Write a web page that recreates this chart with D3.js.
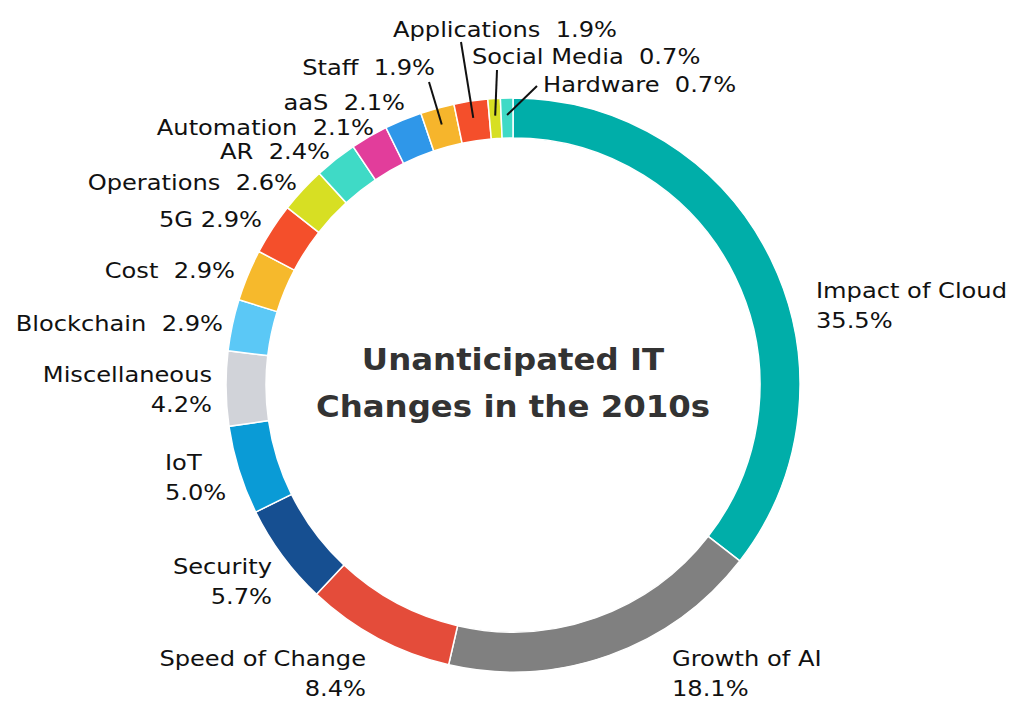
<!DOCTYPE html>
<html>
<head>
<meta charset="utf-8">
<script src="https://cdn.jsdelivr.net/npm/d3@7"></script>
<style>
  body { margin: 0; background: #fff; }
  text { font-family: "DejaVu Sans", sans-serif; }
</style>
</head>
<body>
<div class="donut"></div>
<script>
// categories, clockwise from 12 o'clock
const categories = ["Impact of Cloud", "Growth of AI", "Speed of Change", "Security", "IoT",
    "Miscellaneous", "Blockchain", "Cost", "5G", "Operations", "AR", "Automation", "aaS",
    "Staff", "Applications", "Social Media", "Hardware"];
const shares = [35.5, 18.1, 8.4, 5.7, 5.0, 4.2, 2.9, 2.9, 2.9, 2.6, 2.4, 2.1, 2.1, 1.9, 1.9, 0.7, 0.7];
const shareLabels = ["35.5%", "18.1%", "8.4%", "5.7%", "5.0%", "4.2%", "2.9%", "2.9%", "2.9%",
    "2.6%", "2.4%", "2.1%", "2.1%", "1.9%", "1.9%", "0.7%", "0.7%"];
const colors = ["#00aea9", "#808080", "#e44c3a", "#164f91", "#0a9bd6", "#d1d3d9", "#5bc8f6",
    "#f6b92c", "#f44f2b", "#d7df23", "#3fdac6", "#e23d9b", "#2f97e9", "#f6b52c", "#f44f2b",
    "#d7df23", "#3fdac6"];
const titleLines = ["Unanticipated IT", "Changes in the 2010s"];

// label placement: x, baseline of first line, anchor, two-line or single, leader end
const labelLayout = [
    {x: 816, y: 298, anchor: "start", split: true},
    {x: 672, y: 666, anchor: "start", split: true},
    {x: 366, y: 666, anchor: "end", split: true},
    {x: 272, y: 574, anchor: "end", split: true},
    {x: 165, y: 470, anchor: "start", split: true},
    {x: 212, y: 382, anchor: "end", split: true},
    {x: 223, y: 331, anchor: "end", sep: "  "},
    {x: 235, y: 278, anchor: "end", sep: "  "},
    {x: 262, y: 227, anchor: "end", sep: " "},
    {x: 297, y: 190, anchor: "end", sep: "  "},
    {x: 330, y: 159, anchor: "end", sep: "  "},
    {x: 374, y: 135, anchor: "end", sep: "  "},
    {x: 405, y: 110, anchor: "end", sep: "  "},
    {x: 435, y: 75, anchor: "end", sep: "  ", leader: [429, 82]},
    {x: 393, y: 37, anchor: "start", sep: "  ", leader: [461, 42]},
    {x: 472, y: 64, anchor: "start", sep: "  ", leader: [497, 70]},
    {x: 543, y: 92, anchor: "start", sep: "  ", leader: [537, 86]}
];

const width = 1024;
const height = 722;
const cx = 513, cy = 385;
const outer = 287, inner = 247;
// the original face is wider than DejaVu, so stretch text sideways a bit
const stretch = 1.15;

const svg = d3.select(".donut")
    .append("svg")
    .attr("width", width)
    .attr("height", height);

const g = svg.append("g").attr("transform", "translate(" + cx + "," + cy + ")");

const pie = d3.pie().sort(null).value(d => d)(shares);
const arc = d3.arc().innerRadius(inner).outerRadius(outer);

g.selectAll("path")
    .data(pie)
    .enter()
    .append("path")
    .attr("d", arc)
    .attr("fill", (d, i) => colors[i])
    .attr("stroke", "#fff")
    .attr("stroke-width", 1.5);

// leader lines for the thin slices at the top
pie.forEach(function(d, i){
    let lay = labelLayout[i];
    if (!lay.leader) return;
    let a = (d.startAngle + d.endAngle) / 2;
    svg.append("line")
        .attr("x1", cx + 270 * Math.sin(a))
        .attr("y1", cy - 270 * Math.cos(a))
        .attr("x2", lay.leader[0])
        .attr("y2", lay.leader[1])
        .attr("stroke", "#111")
        .attr("stroke-width", 2);
});

// labels
categories.forEach(function(name, i){
    let lay = labelLayout[i];
    let t = svg.append("text")
        .attr("transform", "translate(" + lay.x + "," + lay.y + ") scale(" + stretch + ",1)")
        .attr("text-anchor", lay.anchor)
        .attr("font-size", "21px")
        .attr("fill", "#111")
        .style("white-space", "pre");
    if (lay.split){
        t.append("tspan").attr("x", 0).text(name);
        t.append("tspan").attr("x", 0).attr("dy", 30).text(shareLabels[i]);
    } else {
        t.text(name + lay.sep + shareLabels[i]);
    }
});

// title in the hole
svg.selectAll(".title")
    .data(titleLines)
    .enter()
    .append("text")
    .attr("class", "title")
    .attr("transform", (d, i) => "translate(" + cx + "," + (370 + i * 47) + ") scale(1.08,1)")
    .attr("text-anchor", "middle")
    .attr("font-size", "30px")
    .attr("font-weight", "bold")
    .attr("fill", "#333")
    .text(d => d);
</script>
</body>
</html>
